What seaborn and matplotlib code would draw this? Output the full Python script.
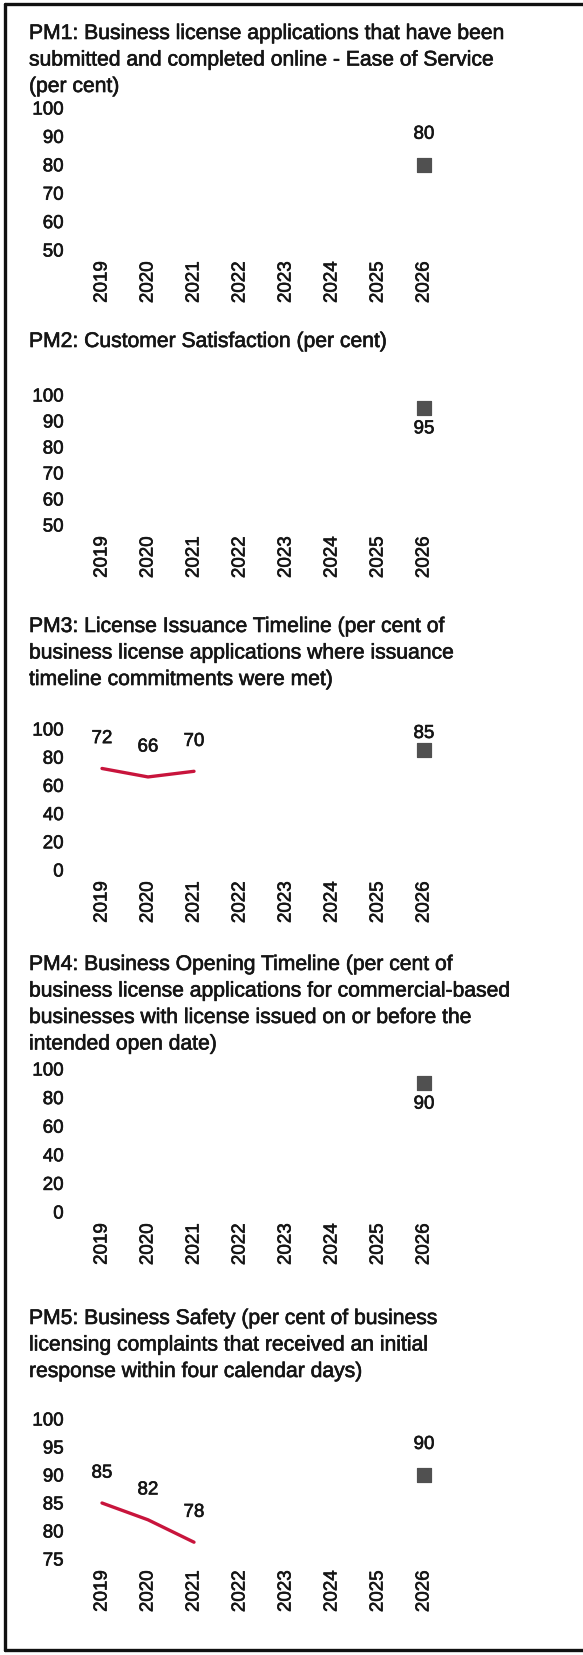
import matplotlib
matplotlib.use("Agg")
import matplotlib.pyplot as plt
from matplotlib.lines import Line2D
import matplotlib.patheffects as pe
import seaborn as sns
import pandas as pd

sns.set_theme(style="white")
plt.rcParams['font.family'] = ['Liberation Sans', 'DejaVu Sans']

# ---- data ----
years = [2019, 2020, 2021, 2022, 2023, 2024, 2025, 2026]

pm1_title = ("PM1: Business license applications that have been\n"
             "submitted and completed online - Ease of Service\n(per cent)")
pm1_actual_years = []
pm1_actual = []
pm1_target_year = [2026]
pm1_target = [80]
pm1_yticks = [50, 60, 70, 80, 90, 100]

pm2_title = "PM2: Customer Satisfaction (per cent)"
pm2_actual_years = []
pm2_actual = []
pm2_target_year = [2026]
pm2_target = [95]
pm2_yticks = [50, 60, 70, 80, 90, 100]

pm3_title = ("PM3: License Issuance Timeline (per cent of\n"
             "business license applications where issuance\n"
             "timeline commitments were met)")
pm3_actual_years = [2019, 2020, 2021]
pm3_actual = [72, 66, 70]
pm3_target_year = [2026]
pm3_target = [85]
pm3_yticks = [0, 20, 40, 60, 80, 100]

pm4_title = ("PM4: Business Opening Timeline (per cent of\n"
             "business license applications for commercial-based\n"
             "businesses with license issued on or before the\n"
             "intended open date)")
pm4_actual_years = []
pm4_actual = []
pm4_target_year = [2026]
pm4_target = [90]
pm4_yticks = [0, 20, 40, 60, 80, 100]

pm5_title = ("PM5: Business Safety (per cent of business\n"
             "licensing complaints that received an initial\n"
             "response within four calendar days)")
pm5_actual_years = [2019, 2020, 2021]
pm5_actual = [85, 82, 78]
pm5_target_year = [2026]
pm5_target = [90]
pm5_yticks = [75, 80, 85, 90, 95, 100]

W, H = 583, 1656
fig = plt.figure(figsize=(W / 100, H / 100), dpi=100)
fig.patch.set_facecolor("white")

LINE_COLOR = "#c8143c"
MARK_COLOR = "#505050"
TXT = "#151515"
BOLDISH = [pe.withStroke(linewidth=0.45, foreground=TXT)]

# layout: (title_top_px, axis_top_px, axis_bottom_px, target label offset pts)
panels = [
    (pm1_title, pm1_actual_years, pm1_actual, pm1_target_year, pm1_target, pm1_yticks, 25, 109, 251, 22),
    (pm2_title, pm2_actual_years, pm2_actual, pm2_target_year, pm2_target, pm2_yticks, 333, 396, 526, -15),
    (pm3_title, pm3_actual_years, pm3_actual, pm3_target_year, pm3_target, pm3_yticks, 618, 730, 871, 12),
    (pm4_title, pm4_actual_years, pm4_actual, pm4_target_year, pm4_target, pm4_yticks, 956, 1070, 1213, -15),
    (pm5_title, pm5_actual_years, pm5_actual, pm5_target_year, pm5_target, pm5_yticks, 1310, 1420, 1560, 22),
]

x_left, x_right = 79, 447

for (title, ay, av, ty, tv, yt, t_top, a_top, a_bot, toff) in panels:
    fig.text(29 / W, 1 - t_top / H, title, ha="left", va="top",
             fontsize=15.2, color=TXT, linespacing=1.5, path_effects=BOLDISH)
    ax = fig.add_axes([x_left / W, 1 - a_bot / H, (x_right - x_left) / W, (a_bot - a_top) / H])
    ax.set_facecolor("none")
    if av:
        df = pd.DataFrame({"year": ay, "value": av})
        sns.lineplot(data=df, x="year", y="value", ax=ax, color=LINE_COLOR,
                     linewidth=2.4, clip_on=False)
        for x, y in zip(ay, av):
            ax.annotate(str(y), (x, y), xytext=(0, 21.5), textcoords="offset points",
                        ha="center", va="center", fontsize=13.5, color=TXT,
                        path_effects=BOLDISH)
    dft = pd.DataFrame({"year": ty, "value": tv})
    sns.scatterplot(data=dft, x="year", y="value", ax=ax, marker="s", s=115,
                    color=MARK_COLOR, edgecolor=MARK_COLOR, clip_on=False, zorder=3)
    for x, y in zip(ty, tv):
        ax.annotate(str(y), (x, y), xytext=(0, toff), textcoords="offset points",
                    ha="center", va="center", fontsize=13.5, color=TXT,
                    path_effects=BOLDISH)
    ax.set_xlim(years[0] - 0.5, years[-1] + 0.5)
    ax.set_ylim(yt[0], yt[-1])
    ax.set_xticks(years)
    ax.set_xticklabels([str(y) for y in years], rotation=90, fontsize=13.5, color=TXT)
    ax.set_yticks(yt)
    ax.set_yticklabels([str(v) for v in yt], fontsize=13.5, color=TXT)
    for lab in ax.get_xticklabels() + ax.get_yticklabels():
        lab.set_path_effects(BOLDISH)
    ax.tick_params(axis="y", length=0, pad=11)
    ax.tick_params(axis="x", length=0, pad=8)
    ax.set_xlabel("")
    ax.set_ylabel("")
    for s in ax.spines.values():
        s.set_visible(False)
    ax.grid(False)

# page border (top, left, bottom)
def px(x, y):
    return x / W, 1 - y / H

for (x0, y0), (x1, y1) in [((5, 5), (583, 5)), ((5, 5), (5, 1651)), ((5, 1651), (583, 1651))]:
    a, b = px(x0, y0)
    c, d = px(x1, y1)
    fig.add_artist(Line2D([a, c], [b, d], color="#111111", linewidth=2.4,
                          transform=fig.transFigure))

fig.savefig("out.png", dpi=100, facecolor="white")
